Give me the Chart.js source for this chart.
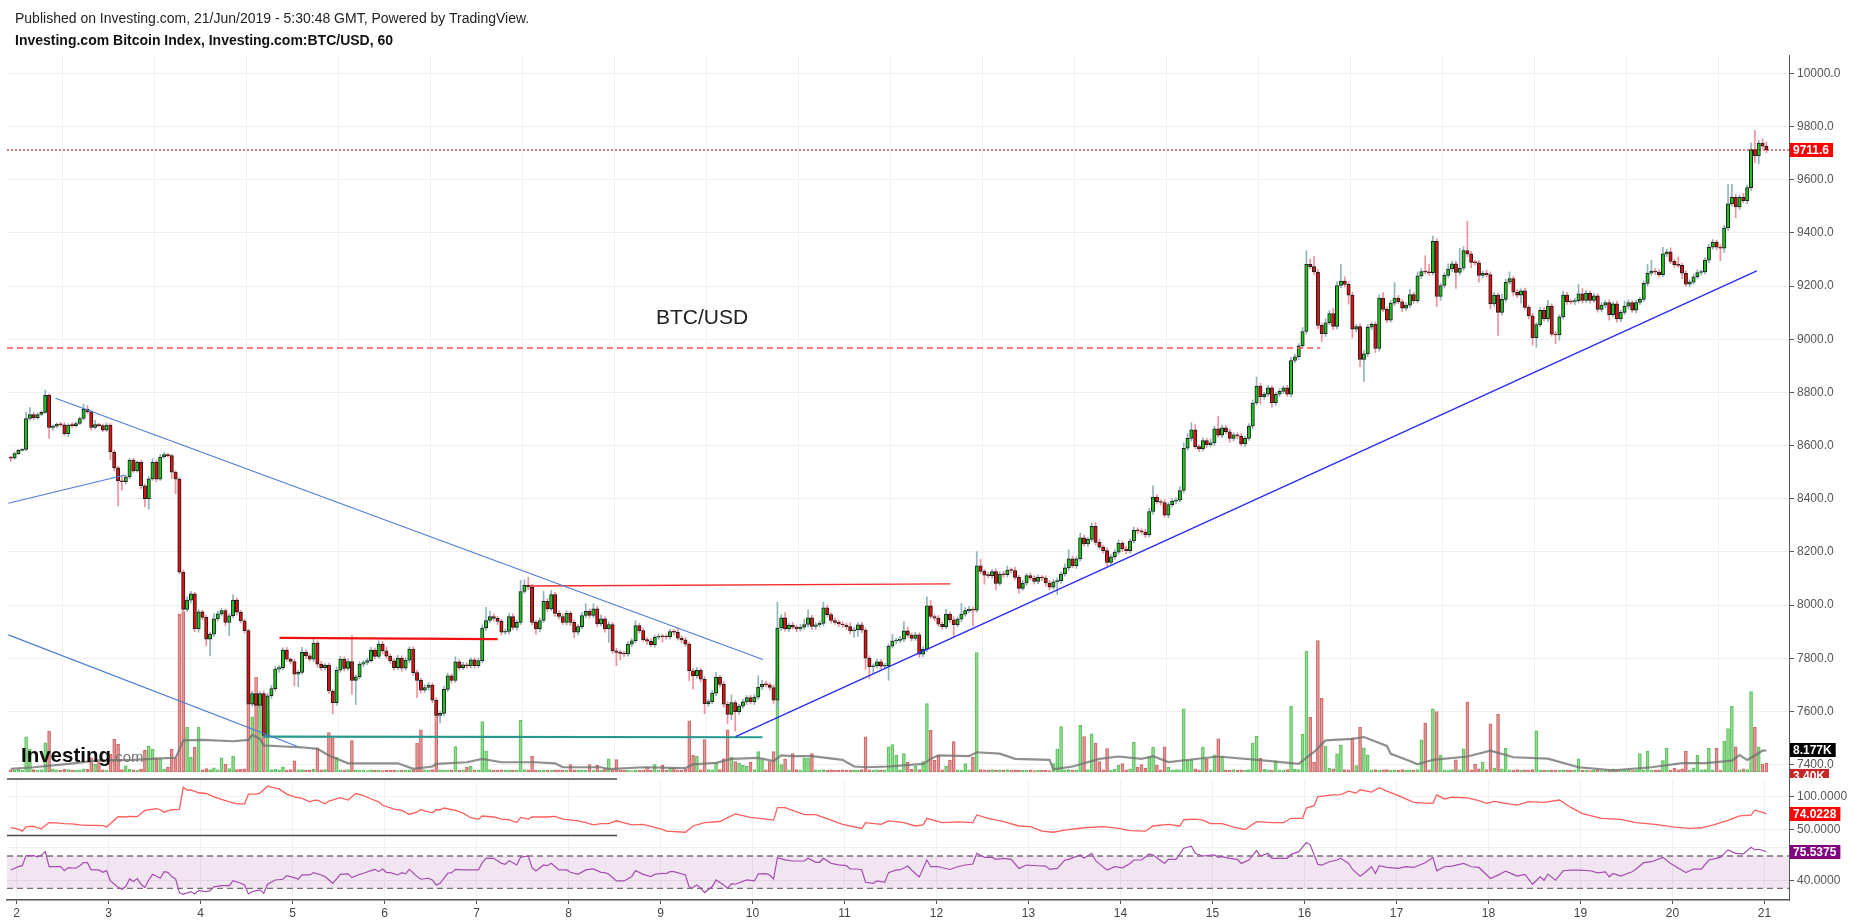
<!DOCTYPE html>
<html>
<head>
<meta charset="utf-8">
<title>Investing.com Bitcoin Index BTC/USD, 60</title>
<script src="https://cdn.jsdelivr.net/npm/chart.js@4.4.1/dist/chart.umd.min.js"></script>
<style>
  html, body { margin: 0; padding: 0; background: #fff; }
  body { width: 1853px; height: 923px; position: relative; overflow: hidden; font-family: "Liberation Sans", Arial, sans-serif; }
  canvas { position: absolute; left: 0; top: 0; }
  .txt { position: absolute; white-space: nowrap; }
  #pub { left: 15px; top: 10px; font-size: 14px; line-height: 16px; color: #222; }
  #ttl { left: 15px; top: 32px; font-size: 14px; line-height: 16px; font-weight: bold; color: #111; }
  #pair { left: 656px; top: 305px; font-size: 21px; line-height: 24px; color: #222; }
  #logo { left: 21px; top: 745px; font-size: 20.5px; line-height: 20px; font-weight: bold; color: #0d0d0d; }
  #logo span { font-size: 15px; font-weight: normal; color: #777; }
</style>
</head>
<body>
<canvas id="price" width="1853" height="923"></canvas>
<canvas id="osc" width="1853" height="923"></canvas>
<canvas id="rsi" width="1853" height="923"></canvas>
<div class="txt" id="pub">Published on Investing.com, 21/Jun/2019 - 5:30:48 GMT, Powered by TradingView.</div>
<div class="txt" id="ttl">Investing.com Bitcoin Index, Investing.com:BTC/USD, 60</div>
<div class="txt" id="pair">BTC/USD</div>
<div class="txt" id="logo">Investing<span>.com</span></div>
<script>
// Hourly candles, index 0 = first bar on the chart (a bit before the "2" day line)
const firstOpen = 8557;
const closes = [
  8553, 8570, 8582, 8586, 8702, 8717, 8705, 8717, 8725, 8789,
  8668, 8673, 8681, 8678, 8645, 8677, 8675, 8683, 8702, 8736,
  8727, 8668, 8679, 8675, 8658, 8677, 8576, 8516, 8467, 8464,
  8482, 8545, 8505, 8537, 8449, 8400, 8475, 8537, 8474, 8557,
  8566, 8562, 8500, 8474, 8124, 7984, 8019, 8042, 7910, 7975,
  7954, 7872, 7891, 7948, 7967, 7979, 7935, 7960, 8019, 7973,
  7941, 7904, 7627, 7667, 7623, 7667, 7510, 7659, 7686, 7759,
  7765, 7831, 7797, 7788, 7740, 7747, 7822, 7809, 7797, 7857,
  7778, 7765, 7774, 7677, 7633, 7755, 7797, 7762, 7788, 7717,
  7730, 7778, 7784, 7791, 7831, 7807, 7853, 7828, 7808, 7790,
  7765, 7801, 7763, 7793, 7835, 7746, 7717, 7680, 7690, 7699,
  7642, 7585, 7593, 7683, 7734, 7717, 7787, 7765, 7775, 7771,
  7794, 7772, 7791, 7914, 7942, 7957, 7950, 7939, 7898, 7901,
  7957, 7916, 7935, 8051, 8074, 8068, 7935, 7910, 7942, 8014,
  7986, 8040, 7969, 7957, 7935, 7969, 7935, 7898, 7919, 7961,
  7977, 7961, 7986, 7929, 7948, 7910, 7927, 7828, 7822, 7818,
  7816, 7853, 7866, 7923, 7904, 7870, 7864, 7851, 7879, 7882,
  7881, 7880, 7900, 7898, 7876, 7869, 7853, 7753, 7734, 7755,
  7721, 7629, 7637, 7669, 7728, 7702, 7627, 7589, 7633, 7599,
  7620, 7636, 7652, 7636, 7654, 7692, 7702, 7700, 7690, 7642,
  7914, 7952, 7910, 7925, 7917, 7910, 7917, 7927, 7952, 7920,
  7926, 7931, 7990, 7964, 7942, 7935, 7929, 7925, 7919, 7903,
  7907, 7926, 7906, 7800, 7768, 7771, 7787, 7770, 7771, 7846,
  7865, 7867, 7872, 7903, 7887, 7875, 7888, 7815, 7834, 7997,
  7957, 7951, 7928, 7919, 7966, 7945, 7926, 7947, 7966, 7979,
  7985, 7981, 8148, 8127, 8113, 8111, 8126, 8082, 8117, 8114,
  8132, 8130, 8104, 8063, 8083, 8111, 8102, 8089, 8104, 8102,
  8083, 8067, 8088, 8092, 8117, 8140, 8174, 8148, 8174, 8253,
  8230, 8247, 8296, 8236, 8218, 8205, 8161, 8182, 8199, 8233,
  8211, 8205, 8241, 8281, 8279, 8275, 8264, 8352, 8406, 8389,
  8386, 8338, 8378, 8391, 8395, 8431, 8590, 8627, 8659, 8596,
  8587, 8619, 8603, 8610, 8663, 8639, 8667, 8652, 8627, 8640,
  8636, 8606, 8627, 8673, 8760, 8824, 8784, 8793, 8817, 8761,
  8793, 8804, 8817, 8793, 8920, 8934, 8975, 9029, 9282, 9273,
  9253, 9052, 9021, 9062, 9096, 9048, 9202, 9219, 9206, 9166,
  9038, 9048, 8924, 8945, 9045, 9056, 8965, 9155, 9112, 9072,
  9136, 9155, 9141, 9117, 9128, 9168, 9145, 9238, 9254, 9253,
  9250, 9368, 9161, 9202, 9240, 9264, 9284, 9251, 9267, 9333,
  9321, 9289, 9287, 9240, 9248, 9243, 9133, 9166, 9101, 9150,
  9215, 9228, 9177, 9166, 9182, 9120, 9088, 9006, 9055, 9109,
  9076, 9125, 9019, 9016, 9084, 9166, 9141, 9140, 9145, 9171,
  9146, 9174, 9146, 9163, 9112, 9128, 9138, 9092, 9133, 9076,
  9101, 9124, 9138, 9109, 9138, 9150, 9210, 9248, 9256, 9253,
  9243, 9321, 9329, 9293, 9280, 9278, 9248, 9207, 9215, 9235,
  9251, 9253, 9297, 9346, 9365, 9346, 9342, 9419, 9509, 9534,
  9498, 9534, 9521, 9570, 9713, 9689, 9738, 9726, 9711.6
];
// wick length above / below the body, in USD
const upWick = [
  3, 5, 4, 3, 23, 26, 8, 6, 5, 20,   6, 5, 4, 6, 8, 5, 10, 6, 6, 19,
  14, 6, 16, 5, 6, 8, 6, 8, 6, 19,   6, 6, 8, 5, 8, 6, 8, 14, 8, 10,
  10, 6, 5, 5, 6, 8, 12, 10, 6, 8,   6, 8, 8, 20, 10, 8, 6, 8, 20, 8,
  8, 6, 6, 10, 60, 8, 10, 10, 12, 10,   8, 8, 10, 6, 8, 8, 19, 10, 8, 21,
  8, 10, 6, 8, 6, 12, 10, 8, 10, 97,   8, 10, 8, 10, 10, 8, 13, 10, 15, 8,
  8, 10, 8, 10, 8, 8, 10, 8, 10, 10,   8, 10, 8, 12, 10, 8, 19, 8, 10, 8,
  8, 8, 10, 12, 50, 20, 10, 8, 8, 10,   12, 10, 8, 42, 21, 30, 10, 8, 10, 38,
  10, 15, 8, 10, 8, 10, 8, 10, 8, 12,   28, 8, 19, 10, 15, 8, 10, 8, 10, 8,
  8, 10, 8, 19, 8, 10, 8, 10, 8, 10,   8, 8, 10, 8, 15, 8, 10, 8, 8, 10,
  8, 10, 8, 10, 19, 8, 10, 10, 29, 8,   8, 10, 8, 8, 10, 42, 15, 12, 8, 10,
  97, 12, 20, 8, 10, 8, 10, 20, 30, 10,   8, 10, 21, 10, 8, 10, 8, 10, 8, 15,
  10, 8, 10, 8, 10, 8, 10, 8, 10, 8,   25, 8, 10, 34, 15, 8, 10, 8, 10, 34,
  20, 8, 10, 8, 18, 8, 10, 8, 40, 12,   10, 8, 53, 25, 8, 10, 8, 10, 8, 10,
  15, 8, 12, 8, 10, 8, 10, 8, 10, 8,   8, 10, 8, 10, 8, 15, 34, 10, 8, 18,
  10, 8, 13, 15, 12, 8, 10, 8, 10, 12,   8, 10, 8, 12, 10, 8, 10, 12, 43, 10,
  8, 10, 8, 10, 8, 15, 20, 18, 27, 20,   8, 10, 8, 15, 10, 47, 10, 8, 10, 8,
  8, 10, 8, 10, 12, 34, 10, 8, 10, 8,   8, 10, 8, 10, 12, 10, 8, 15, 51, 20,
  38, 10, 8, 15, 12, 20, 15, 63, 16, 10,   10, 8, 10, 12, 10, 8, 10, 12, 20, 10,
  10, 58, 10, 8, 10, 20, 8, 15, 12, 60,   30, 20, 10, 8, 10, 20, 10, 10, 75, 15,
  111, 10, 8, 10, 8, 12, 10, 10, 8, 20,   10, 25, 8, 10, 8, 10, 8, 10, 8, 10,
  10, 21, 8, 10, 8, 15, 10, 8, 10, 36,   20, 10, 8, 10, 8, 10, 8, 10, 8, 10,
  8, 20, 10, 8, 10, 8, 10, 33, 41, 10,   8, 25, 10, 15, 8, 29, 8, 10, 8, 10,
  10, 8, 10, 12, 10, 8, 10, 10, 73, 49,   10, 8, 15, 10, 25, 73, 10, 16, 16
];
const downWick = [
  12, 4, 4, 3, 5, 6, 8, 6, 4, 5,   41, 10, 6, 5, 8, 12, 8, 5, 4, 6,
  6, 10, 5, 4, 6, 5, 29, 12, 94, 32,   8, 6, 6, 5, 12, 31, 40, 6, 10, 5,
  5, 6, 24, 55, 6, 10, 8, 12, 10, 12,   10, 25, 63, 10, 8, 8, 12, 50, 8, 10,
  8, 10, 10, 8, 10, 12, 20, 8, 10, 8,   12, 8, 8, 10, 44, 47, 8, 10, 8, 10,
  12, 10, 8, 10, 42, 10, 8, 10, 8, 53,   91, 8, 10, 8, 6, 10, 8, 12, 10, 8,
  10, 8, 12, 8, 10, 10, 65, 10, 8, 10,   10, 28, 28, 10, 8, 10, 8, 10, 8, 10,
  8, 10, 8, 8, 10, 8, 10, 12, 10, 8,   10, 8, 10, 8, 8, 10, 10, 19, 10, 8,
  10, 8, 12, 10, 8, 10, 12, 21, 10, 8,   8, 10, 8, 10, 8, 12, 50, 10, 50, 25,
  10, 8, 10, 8, 10, 8, 12, 8, 10, 8,   20, 8, 8, 10, 8, 10, 8, 38, 50, 10,
  10, 38, 10, 8, 10, 10, 12, 35, 20, 73,   10, 8, 10, 8, 10, 8, 10, 8, 10, 12,
  28, 10, 8, 10, 8, 10, 8, 8, 10, 12,   10, 8, 10, 8, 10, 8, 10, 8, 10, 12,
  25, 25, 10, 41, 44, 25, 8, 10, 8, 54,   8, 10, 8, 10, 8, 10, 8, 12, 10, 8,
  8, 10, 8, 10, 8, 10, 48, 8, 10, 8,   8, 59, 8, 8, 34, 8, 10, 25, 8, 10,
  8, 10, 8, 19, 8, 10, 8, 10, 8, 10,   12, 10, 8, 48, 10, 8, 10, 8, 10, 8,
  8, 10, 8, 10, 8, 10, 15, 8, 10, 8,   10, 12, 10, 8, 10, 8, 10, 8, 10, 8,
  10, 8, 10, 8, 10, 8, 10, 8, 10, 8,   10, 8, 10, 8, 10, 8, 10, 8, 15, 10,
  10, 8, 10, 8, 10, 8, 27, 10, 8, 17,   10, 8, 10, 8, 10, 8, 10, 8, 10, 8,
  10, 12, 30, 10, 8, 12, 10, 8, 10, 34,   33, 10, 27, 83, 10, 8, 15, 10, 8, 10,
  8, 10, 8, 13, 10, 8, 10, 8, 10, 8,   10, 8, 38, 15, 10, 8, 10, 60, 10, 8,
  10, 20, 8, 25, 10, 8, 20, 10, 87, 10,   10, 8, 15, 10, 30, 8, 12, 28, 36, 8,
  8, 10, 8, 33, 20, 8, 10, 8, 10, 8,   10, 8, 10, 8, 10, 8, 10, 20, 8, 12,
  10, 8, 10, 8, 10, 8, 8, 10, 8, 10,   10, 8, 10, 8, 10, 8, 20, 8, 10, 8,
  8, 10, 8, 10, 8, 10, 46, 15, 10, 8,   41, 10, 8, 12, 10, 25, 29, 10, 10
];
// volume per bar, thousands
const volumes = [
  0.8, 0.6, 1.0, 0.7, 13.4, 8.6, 0.9, 0.6, 0.8, 11.1,   15.6, 1.2, 0.8, 0.6, 1.0, 0.9, 0.7, 0.6, 0.8, 1.2,
  1.0, 5.4, 2.9, 4.0, 0.8, 0.7, 6.7, 12.4, 10.5, 0.9,   2.3, 1.0, 0.8, 0.7, 1.1, 8.2, 9.9, 8.6, 5.4, 4.8,
  1.0, 1.9, 8.6, 5.4, 60, 61, 17, 5.7, 9.5, 17,   0.8, 1.3, 0.9, 1.6, 0.8, 5.4, 2.9, 1.3, 6.0, 0.9,
  1.0, 1.2, 25.7, 21, 36, 25.7, 17.5, 23, 0.9, 1.0,   0.8, 1.9, 0.7, 0.9, 4.2, 0.8, 0.9, 0.7, 0.8, 1.0,
  9.2, 0.8, 0.9, 15, 13, 5.6, 0.8, 0.7, 0.9, 11.9,   0.8, 0.6, 0.7, 0.5, 0.8, 0.6, 0.7, 0.5, 0.6, 0.7,
  0.6, 0.5, 0.7, 0.6, 0.8, 0.9, 11, 16, 0.8, 0.7,   0.9, 25.6, 0.8, 0.7, 0.6, 0.7, 9.7, 0.6, 0.8, 1.8,
  2.2, 0.7, 0.8, 19.2, 8.0, 0.9, 0.7, 0.6, 0.8, 0.7,   0.8, 0.6, 0.7, 19.6, 0.9, 0.8, 6.0, 0.7, 0.6, 0.8,
  0.7, 0.6, 0.8, 0.7, 0.6, 0.7, 2.8, 0.8, 0.6, 0.7,   0.6, 2.8, 0.7, 2.5, 0.6, 1.2, 5.0, 0.8, 4.7, 0.7,
  0.6, 0.7, 0.5, 0.8, 0.6, 0.7, 2.0, 0.6, 2.8, 0.7,   2.5, 0.6, 1.6, 1.6, 0.7, 0.6, 1.0, 19.5, 6.3, 6.0,
  0.8, 12.3, 0.9, 0.8, 3.4, 0.9, 5.0, 16, 5.6, 4.0,   3.4, 2.6, 2.2, 3.7, 0.9, 7.8, 4.7, 0.8, 4.0, 7.8,
  37, 2.8, 5.0, 0.8, 7.0, 0.9, 0.7, 5.3, 5.3, 7.0,   0.8, 0.7, 0.9, 0.6, 0.8, 0.7, 0.6, 0.8, 0.7, 0.6,
  0.8, 0.7, 0.9, 13.4, 0.8, 0.7, 0.9, 0.6, 0.8, 9.6,   10.4, 6.3, 0.8, 7.0, 3.7, 1.0, 2.2, 0.9, 4.0, 26,
  15.8, 4.4, 6.2, 0.8, 2.2, 4.4, 11.6, 0.8, 0.7, 3.2,   0.8, 5.6, 45.4, 0.9, 0.8, 0.7, 0.9, 0.6, 0.8, 0.7,
  0.9, 0.7, 0.8, 0.6, 0.7, 0.6, 0.8, 0.5, 0.6, 0.7,   0.6, 0.5, 3.2, 8.7, 17.3, 0.8, 0.9, 0.7, 0.8, 17.7,
  13.5, 0.9, 14.5, 11.0, 4.0, 0.8, 8.9, 0.7, 1.0, 2.5,   3.2, 0.8, 1.2, 11.3, 1.9, 2.8, 1.5, 5.7, 9.5, 2.6,
  0.8, 9.6, 1.8, 0.7, 0.9, 0.8, 24, 4.5, 4.5, 1.2,   0.8, 9.5, 4.8, 0.7, 6.5, 12.6, 6.0, 0.8, 0.7, 0.9,
  0.6, 0.8, 0.7, 0.9, 11, 13.6, 5.2, 1.0, 0.8, 0.7,   4.2, 0.8, 0.7, 0.9, 25, 1.0, 0.9, 14.4, 46, 20.8,
  3.8, 50, 28, 9.9, 1.5, 1.2, 6.9, 10.2, 0.9, 0.8,   13, 2.4, 17, 9.2, 6.5, 0.8, 0.9, 0.7, 0.8, 0.9,
  0.7, 0.8, 0.6, 0.9, 0.7, 0.8, 0.6, 0.9, 12.2, 18.6,   0.8, 24, 23, 6.3, 0.8, 0.7, 0.9, 4.6, 0.8, 8.8,
  26.6, 0.8, 3.0, 1.2, 3.8, 0.9, 18.3, 1.5, 22, 1.2,   9.0, 0.8, 0.7, 0.9, 0.6, 0.8, 0.7, 0.9, 15.7, 0.8,
  0.7, 0.6, 0.8, 0.7, 0.6, 0.8, 0.7, 0.6, 0.8, 5.0,   0.6, 0.7, 0.5, 0.6, 0.7, 0.5, 0.6, 0.7, 1.2, 0.6,
  0.5, 0.6, 0.7, 0.5, 0.6, 7.0, 0.8, 8.0, 0.7, 0.6,   0.8, 4.3, 9.0, 0.7, 1.5, 0.8, 1.2, 8.0, 0.7, 1.6,
  6.3, 0.8, 0.9, 9.0, 0.8, 9.0, 0.7, 11.7, 16.5, 25,   9.6, 0.8, 1.2, 0.9, 30.6, 17, 9.6, 3.0, 3.4
];
// volume moving average, [bar, thousands]
const volumeMA = [
  [0, 1.2], [6, 1.8], [15, 3.1], [23, 4.4], [32, 4.6], [39, 5.2], [43, 5.4], [44, 8.5], [45, 12], [50, 12.2],
  [58, 11.7], [62, 12.2], [63, 14.1], [65, 12.6], [66, 10.1], [70, 9.8], [76, 9.4], [80, 8.8], [83, 6.3], [88, 3.3],
  [97, 3.3], [101, 3.3], [105, 1.2], [110, 2.1], [111, 3.1], [119, 3.7], [123, 5], [128, 3.7], [137, 3.7], [142, 3.3],
  [144, 1.8], [154, 1.8], [156, 1.1], [165, 1.8], [176, 1.5], [178, 2.9], [184, 3.5], [188, 5], [195, 5.4], [199, 4.2],
  [201, 6.3], [204, 6], [209, 6], [217, 4.6], [220, 2.1], [223, 1.8], [229, 2.1], [238, 3.1], [240, 5], [242, 6.3],
  [250, 6], [252, 7.5], [258, 7], [262, 5], [271, 4.6], [272, 1], [277, 2.1], [284, 5], [289, 5.9], [295, 5],
  [298, 6], [302, 3.8], [315, 5.9], [328, 4.2], [336, 3.1], [338, 5.5], [340, 7.6], [343, 12], [350, 12.6], [353, 13.3],
  [359, 9.9], [360, 6.9], [365, 4.2], [367, 2.9], [371, 4.6], [380, 5.9], [386, 8.1], [392, 5.6], [401, 5.1], [409, 1.8],
  [418, 0.6], [428, 1.8], [436, 3.4], [442, 3.4], [449, 4.3], [451, 6.4], [453, 4.6], [457, 8.1], [458, 8.177]
];
// upper oscillator (red), [bar, value]
const oscSeries = [
  [0, 52.7], [2, 50.5], [3, 47.4], [4, 54.2], [6, 54.8], [8, 51.1], [10, 60.5], [12, 60], [14, 59], [16, 58.4],
  [18, 56.9], [20, 56.3], [22, 56.3], [24, 55.8], [25, 53.7], [28, 69.5], [30, 69], [31, 70], [33, 69.5], [35, 79],
  [38, 81.6], [39, 80], [40, 76.3], [42, 80], [44, 80.5], [45, 114.2], [46, 110], [47, 110], [49, 105.8], [51, 104.7],
  [53, 99.5], [55, 95.8], [57, 92.1], [59, 89], [61, 89], [62, 103.7], [64, 103.7], [65, 105.3], [67, 115.8], [68, 114.2],
  [70, 111.6], [72, 103.7], [74, 99.5], [76, 97.4], [78, 92.1], [79, 94.2], [80, 94.7], [82, 89], [83, 93.2], [86, 98.4],
  [88, 94.7], [90, 104.7], [92, 101.6], [94, 96.3], [96, 92.1], [97, 86.8], [100, 81], [102, 79], [104, 73.2], [106, 76.3],
  [107, 80.5], [108, 78.4], [110, 75.3], [111, 80], [112, 80], [113, 82.6], [116, 79], [118, 74.8], [120, 67.9], [122, 65.3],
  [123, 70.5], [126, 69], [128, 65.8], [130, 64.8], [132, 60.5], [133, 68.4], [135, 65.8], [136, 69], [140, 69], [142, 70],
  [144, 65.8], [148, 63.2], [150, 60.5], [152, 56.9], [154, 59], [156, 59], [158, 63.2], [162, 56.9], [165, 57.9], [170, 50],
  [171, 47.4], [176, 45.8], [178, 55.3], [181, 60.5], [185, 62.1], [189, 73.7], [193, 68.4], [197, 65.8], [199, 64.2], [200, 83.2],
  [202, 83.2], [207, 72.6], [210, 72.6], [212, 68.4], [217, 57.9], [222, 51.6], [223, 60.5], [227, 57.9], [229, 63.2], [233, 60.5],
  [236, 55.3], [238, 56.9], [239, 66.9], [243, 60.5], [247, 61.6], [251, 60.5], [252, 72.1], [255, 66.9], [259, 62.1], [263, 55.3],
  [266, 54.2], [269, 47.4], [272, 45.8], [275, 49], [280, 52.6], [285, 54.2], [289, 51.6], [292, 48.4], [296, 47.4], [298, 55.3],
  [302, 57.9], [305, 55.3], [306, 64.8], [309, 65.8], [311, 64.2], [313, 59], [316, 58.8], [319, 53.6], [322, 50], [325, 61.9],
  [329, 60.3], [332, 60.3], [334, 67], [337, 67], [338, 82.5], [340, 86.1], [341, 100], [345, 102.6], [347, 103.1], [349, 108.2],
  [351, 105.2], [352, 110.3], [355, 106.7], [357, 113.4], [359, 108.2], [362, 101.5], [366, 91.2], [369, 90.2], [371, 89.7], [372, 102.6],
  [374, 96.4], [376, 99], [380, 97.9], [383, 93.8], [385, 89.7], [387, 92.8], [390, 89.7], [393, 87.1], [396, 92.3], [400, 91.2],
  [404, 94.8], [407, 83.5], [410, 74.2], [415, 67], [420, 65.5], [424, 60.3], [429, 57.8], [434, 53.6], [438, 51.6], [441, 52.6],
  [444, 56.7], [448, 63.9], [451, 70.6], [454, 71.7], [455, 79.4], [457, 76], [458, 74.0228]
];
// RSI, [bar, value]
const rsiSeries = [
  [0, 52.7], [2, 56.8], [3, 58], [4, 70.4], [6, 70.4], [7, 68.8], [8, 70.8], [9, 75.4], [10, 56.8], [12, 56.8],
  [13, 56.8], [14, 51.9], [15, 55.6], [17, 54.8], [18, 58], [19, 61.8], [20, 61.8], [21, 52.7], [23, 52.7], [24, 49.8],
  [25, 51.9], [26, 39.1], [28, 31.3], [29, 28.8], [30, 32.1], [31, 41.6], [32, 38.3], [33, 42], [34, 35], [35, 30.9],
  [36, 40.3], [37, 47.3], [39, 42.4], [40, 50.6], [41, 49.8], [42, 44.5], [43, 41.6], [44, 24.7], [45, 22.6], [47, 25.9],
  [48, 23], [49, 27.1], [51, 25.9], [52, 27.1], [53, 31.7], [55, 33.3], [57, 33.3], [58, 39.5], [60, 36.2], [61, 34.2],
  [62, 23], [63, 25.9], [65, 28], [66, 23.9], [67, 35], [69, 40.3], [71, 41.2], [72, 45.7], [74, 43.2], [75, 41.2],
  [76, 46.5], [78, 46.5], [79, 49.4], [81, 46.5], [82, 44.5], [84, 36.2], [86, 47.3], [88, 47.8], [89, 43.2], [91, 47.3],
  [92, 48.6], [94, 51.9], [95, 53.5], [96, 50.6], [97, 53.9], [98, 49.8], [99, 49.4], [101, 46.5], [102, 49.4], [103, 47.8],
  [104, 53.5], [106, 44.5], [107, 41.2], [109, 42.4], [110, 40.3], [111, 34.2], [112, 36.2], [114, 48.6], [115, 49.4], [116, 53.5],
  [118, 52.7], [120, 52.7], [122, 52.7], [123, 61.8], [124, 67.1], [126, 67.1], [128, 60.9], [129, 59.7], [130, 64.2], [132, 58.9],
  [133, 68.4], [135, 70], [136, 55.6], [137, 51.5], [139, 58.9], [140, 58], [141, 60.9], [143, 52.7], [145, 52.7], [146, 49.8],
  [148, 47.3], [150, 52.7], [152, 53.9], [154, 49.8], [155, 49.4], [156, 47.3], [158, 39.1], [160, 39.1], [162, 44.5], [163, 51.9],
  [165, 47.3], [167, 44.5], [168, 47.3], [170, 48.6], [171, 48.2], [172, 50.6], [173, 50.6], [176, 46.5], [177, 31.3], [178, 31.3],
  [179, 34.2], [180, 30], [181, 24.7], [183, 32.1], [184, 40.3], [186, 34.2], [187, 30], [188, 35.8], [189, 35], [192, 40.3],
  [194, 39.1], [195, 47.8], [197, 48.2], [198, 46.5], [199, 41.6], [200, 67.9], [202, 65.1], [204, 63.8], [207, 63.8], [208, 67.1],
  [210, 62.2], [211, 62.2], [212, 67.1], [214, 60.9], [216, 58.9], [218, 58], [219, 53.9], [221, 53.9], [222, 52.7], [223, 37.5],
  [225, 36.2], [226, 39.1], [228, 37.5], [229, 49.4], [231, 52.7], [232, 52.7], [234, 57.6], [235, 52.7], [237, 44], [239, 65],
  [240, 56.7], [242, 56.7], [243, 55.4], [245, 53.3], [247, 56.7], [249, 58.8], [251, 60], [252, 73.3], [254, 68.3], [256, 68.3],
  [257, 65.8], [259, 67.1], [261, 65.8], [263, 54.6], [265, 58.8], [268, 57.9], [270, 57.5], [271, 53.3], [273, 54.6], [275, 65],
  [276, 65.8], [279, 71.3], [280, 67.1], [282, 73.3], [283, 64.2], [286, 52.5], [288, 56.7], [290, 55.4], [292, 60.8], [293, 65],
  [295, 65], [297, 72.5], [298, 71.3], [301, 60.8], [302, 65.8], [304, 65.8], [306, 79.6], [308, 82.1], [309, 73.3], [311, 70],
  [314, 71.3], [315, 68.3], [316, 69.2], [318, 67.1], [320, 65.8], [321, 60.8], [323, 65], [325, 76.7], [326, 70], [328, 73.3],
  [329, 67.1], [332, 67.1], [333, 67], [334, 72], [336, 75.4], [338, 86.7], [339, 83.8], [341, 59.6], [342, 58.8], [344, 62.9],
  [346, 65], [347, 67.1], [349, 60.8], [350, 53.8], [352, 45], [353, 48.3], [355, 56.7], [356, 48.3], [357, 58], [359, 55.8],
  [362, 54.6], [364, 56.7], [366, 55.8], [369, 61.7], [371, 68.3], [372, 51.7], [374, 56.7], [376, 57.5], [379, 60.8], [381, 56.7],
  [383, 55.8], [386, 42.1], [388, 46.3], [390, 51.3], [393, 45], [395, 47.1], [397, 35], [399, 44.2], [400, 40], [401, 47.5],
  [403, 40], [405, 51.7], [407, 52.5], [409, 52.5], [412, 51.7], [414, 49.2], [416, 50.4], [417, 44.2], [418, 48.3], [420, 45],
  [423, 50.4], [424, 53.8], [426, 61.7], [428, 62.9], [431, 68.3], [433, 60.8], [437, 49.6], [439, 53.8], [441, 53.8], [443, 65],
  [446, 68.3], [448, 77.5], [450, 73.3], [452, 72.5], [454, 80.8], [455, 77.5], [456, 78.3], [458, 75.5375]
];
// drawn lines on the price pane, [bar, price] end points
const channelUpper = [[11.7, 8778], [196.2, 7795]];
const channelLower = [[-0.64, 7888], [75, 7467]];
const shortRise = [[-0.64, 8383], [29.8, 8489]];
const supportRise = [[189.1, 7505], [455.5, 9257]];
const rangeTop = [[70.1, 7877], [127, 7872]];
const breakTop = [[135.3, 8072], [245.1, 8080]];
const rangeBottom = [[65.9, 7505], [196.1, 7503]];
const levelDashed = [[-0.98, 8967], [341.6, 8967]];
const lastPrice = 9711.6;

const dayAt = [1.5, 25.5, 49.5, 73.5, 97.5, 121.5, 145.5, 169.5, 193.5, 217.5, 241.5, 265.5, 289.5, 313.5, 337.5, 361.5, 385.5, 409.5, 433.5, 457.5];
const dayLabels = ['2', '3', '4', '5', '6', '7', '8', '9', '10', '11', '12', '13', '14', '15', '16', '17', '18', '19', '20', '21'];
const priceTicks = [7400, 7600, 7800, 8000, 8200, 8400, 8600, 8800, 9000, 9200, 9400, 9600, 9800, 10000];

const XMIN = -0.98, XMAX = 463.9;
const AXIS_X = 1789;

Chart.defaults.font.family = '"Liberation Sans", Arial, sans-serif';
Chart.defaults.animation = false;
Chart.defaults.plugins.legend.display = false;
Chart.defaults.plugins.tooltip.enabled = false;
Chart.defaults.events = [];

const opens = closes.map((c, i) => i === 0 ? firstOpen : closes[i - 1]);
const isUp = closes.map((c, i) => c >= opens[i]);

const pts = arr => arr.map(p => ({ x: p[0], y: p[1] }));

function xAxis(showTicks) {
  return {
    type: 'linear', min: XMIN, max: XMAX, offset: false,
    afterBuildTicks: s => { s.ticks = dayAt.map(v => ({ value: v })); },
    ticks: { display: showTicks, autoSkip: false, maxRotation: 0, color: '#444', font: { size: 12 }, padding: 2,
      callback: (v, i) => dayLabels[i] },
    grid: { color: '#f1f1f1', drawTicks: showTicks, tickLength: 4, tickColor: '#555' },
    border: { display: showTicks, color: '#555', width: 1.5 },
    afterFit: s => { s.height = showTicks ? 23 : 0; }
  };
}

function yAxis(min, max, tickVals, fmt) {
  return {
    position: 'right', min: min, max: max,
    afterBuildTicks: s => { s.ticks = tickVals.map(v => ({ value: v })); },
    ticks: { color: '#555', font: { size: 12 }, padding: 3, callback: fmt },
    grid: { color: '#efefef', tickLength: 5, tickColor: '#555' },
    border: { color: '#555' },
    afterFit: s => { s.width = 1853 - AXIS_X; }
  };
}

// coloured value tags on the right axis
function tagPlugin(tags) {
  return {
    id: 'tags',
    afterDraw(chart) {
      const ctx = chart.ctx;
      ctx.save();
      ctx.font = 'bold 12px "Liberation Sans", Arial, sans-serif';
      ctx.textBaseline = 'middle';
      tags.forEach(t => {
        const y = t.y !== undefined ? t.y : chart.scales[t.axis].getPixelForValue(t.value);
        const w = ctx.measureText(t.text).width + 7;
        ctx.save();
        if (t.clipBottom) { ctx.beginPath(); ctx.rect(AXIS_X, 0, 70, t.clipBottom); ctx.clip(); }
        ctx.fillStyle = t.bg;
        ctx.fillRect(AXIS_X + 1, Math.round(y) - 7, w, 14);
        ctx.fillStyle = '#fff';
        ctx.fillText(t.text, AXIS_X + 4, Math.round(y) + 0.5);
        ctx.restore();
      });
      ctx.restore();
    }
  };
}

function seg(points, color, width, dash, order) {
  return { type: 'line', data: pts(points), borderColor: color, borderWidth: width, borderDash: dash || [],
    pointRadius: 0, fill: false, order: order === undefined ? 1 : order };
}

// price pane with volume overlay
new Chart(document.getElementById('price'), {
  type: 'bar',
  data: {
    datasets: [
      seg(supportRise, '#2b2bf5', 1.4),
      seg(channelUpper, '#4a7bdc', 1.1),
      seg(channelLower, '#4a7bdc', 1.1),
      seg(shortRise, '#4a7bdc', 1.1),
      seg(rangeTop, '#f01010', 2.2),
      seg(breakTop, '#f52a2a', 1.4),
      seg(rangeBottom, '#26998c', 2.2),
      seg(levelDashed, '#ff5252', 1.3, [6, 4]),
      seg([[XMIN, lastPrice], [XMAX, lastPrice]], '#b00000', 1, [2, 2]),
      {
        type: 'bar', order: 2, grouped: false,
        data: closes.map((c, i) => ({ x: i, y: [opens[i], c] })),
        backgroundColor: isUp.map(u => u ? '#1ec41e' : '#e01010'),
        borderColor: '#1c1c1c', borderWidth: 1, borderSkipped: false,
        barThickness: 3.4, minBarLength: 1
      },
      {
        type: 'bar', order: 3, grouped: false,
        data: closes.map((c, i) => ({ x: i, y: [Math.min(opens[i], c) - downWick[i], Math.max(opens[i], c) + upWick[i]] })),
        backgroundColor: isUp.map(u => u ? '#8fb4bc' : '#f1919b'),
        borderWidth: 0, barThickness: 1
      },
      {
        type: 'line', order: 4, yAxisID: 'yv', data: pts(volumeMA),
        borderColor: 'rgba(115,115,115,0.8)', borderWidth: 2.2, pointRadius: 0, fill: false
      },
      {
        type: 'bar', order: 10, yAxisID: 'yv', grouped: false,
        data: volumes.map((v, i) => ({ x: i, y: v })),
        backgroundColor: isUp.map(u => u ? 'rgba(140,225,140,0.6)' : 'rgba(230,150,150,0.6)'),
        borderColor: isUp.map(u => u ? 'rgba(80,185,80,0.9)' : 'rgba(200,90,90,0.9)'),
        borderWidth: 1, borderSkipped: false, barThickness: 3
      }
    ]
  },
  options: {
    responsive: false,
    layout: { padding: { left: 7, top: 55, right: 0, bottom: 148 } },
    scales: {
      x: xAxis(false),
      y: yAxis(7361, 10069, priceTicks, v => v.toFixed(1)),
      yv: { display: false, min: -1.14, max: 272.6 }
    }
  },
  plugins: [tagPlugin([
    { axis: 'y', value: lastPrice, text: '9711.6', bg: '#ff0000' },
    { axis: 'yv', value: volumeMA[volumeMA.length - 1][1], text: '8.177K', bg: '#000000' },
    { y: 776, text: '3.40K', bg: '#c62828', clipBottom: 778 }
  ])]
});

// middle oscillator pane
new Chart(document.getElementById('osc'), {
  type: 'line',
  data: {
    datasets: [{ data: pts(oscSeries), borderColor: '#ff5c5c', borderWidth: 1.3, pointRadius: 0, fill: false }]
  },
  options: {
    responsive: false,
    layout: { padding: { left: 7, top: 779, right: 0, bottom: 87 } },
    scales: {
      x: xAxis(false),
      y: yAxis(40.1, 126.7, [50, 100], v => v.toFixed(4))
    }
  },
  plugins: [tagPlugin([
    { axis: 'y', value: oscSeries[oscSeries.length - 1][1], text: '74.0228', bg: '#ff0000' }
  ])]
});

// RSI pane with the 30-70 band, plus the frame lines
new Chart(document.getElementById('rsi'), {
  type: 'line',
  data: {
    datasets: [
      { data: pts(rsiSeries), borderColor: '#a64cb0', borderWidth: 1.2, pointRadius: 0, fill: false, order: 0 },
      { data: pts([[XMIN, 70], [XMAX, 70]]), borderColor: '#7d6b7d', borderWidth: 1.3, borderDash: [6, 4], pointRadius: 0, fill: false, order: 1 },
      { data: pts([[XMIN, 30], [XMAX, 30]]), borderColor: '#7d6b7d', borderWidth: 1.3, borderDash: [6, 4], pointRadius: 0,
        fill: '-1', backgroundColor: 'rgba(128,0,128,0.1)', order: 1 }
    ]
  },
  options: {
    responsive: false,
    layout: { padding: { left: 7, top: 837, right: 0, bottom: 0 } },
    scales: {
      x: xAxis(true),
      y: yAxis(15.5, 93.5, [40, 80], v => v === 40 ? v.toFixed(4) : '')
    }
  },
  plugins: [tagPlugin([
    { axis: 'y', value: rsiSeries[rsiSeries.length - 1][1], text: '75.5375', bg: '#800080' }
  ]), {
    id: 'frame',
    afterDraw(chart) {
      const ctx = chart.ctx;
      ctx.save();
      ctx.strokeStyle = '#555';
      ctx.lineWidth = 1;
      ctx.beginPath();
      ctx.moveTo(AXIS_X + 0.5, 55);
      ctx.lineTo(AXIS_X + 0.5, 900);
      ctx.stroke();
      ctx.lineWidth = 1.5;
      ctx.strokeStyle = '#4a4a4a';
      ctx.beginPath();
      ctx.moveTo(7, 779); ctx.lineTo(617, 779);
      ctx.moveTo(7, 835.5); ctx.lineTo(617, 835.5);
      ctx.stroke();
      ctx.restore();
    }
  }]
});
</script>
</body>
</html>
